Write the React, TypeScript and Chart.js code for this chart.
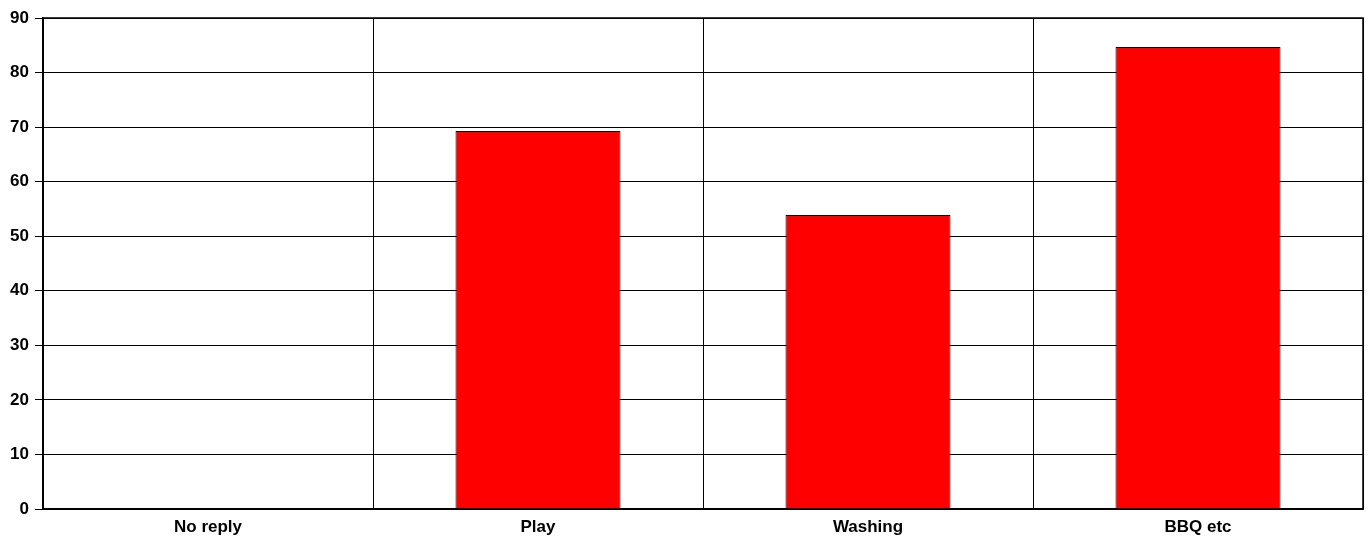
import React, { useEffect, useRef } from "react";
import { Chart, registerables } from "chart.js";

Chart.register(...registerables);

const categories = ["No reply", "Play", "Washing", "BBQ etc"];
const values = [0, 69.3, 53.9, 84.7];
const yTicks = [0, 10, 20, 30, 40, 50, 60, 70, 80, 90];

export default function App() {
  const ref = useRef<HTMLCanvasElement | null>(null);
  useEffect(() => {
    document.body.style.margin = "0";
    const ctx = ref.current!;
    const font = { family: "Arial, 'Liberation Sans', sans-serif", size: 17, weight: "bold" as const };
    const chart = new Chart(ctx, {
      type: "bar",
      data: {
        labels: categories,
        datasets: [
          {
            data: values,
            backgroundColor: "#ff0000",
            borderColor: "#000000",
            borderWidth: 1,
            barPercentage: 0.5,
            categoryPercentage: 1,
          },
        ],
      },
      options: {
        animation: false,
        responsive: false,
        devicePixelRatio: 1,
        layout: { padding: { top: 18, right: 5, left: 0, bottom: 0 } },
        plugins: { legend: { display: false }, tooltip: { enabled: false } },
        scales: {
          x: {
            afterFit: (s: any) => {
              s.height = 29;
            },
            grid: { color: "#000000", lineWidth: 1, drawTicks: false, offset: true },
            border: { color: "#000000", width: 1.5 },
            ticks: { color: "#000000", font, padding: 8 },
          },
          y: {
            min: 0,
            max: 90,
            afterFit: (s: any) => {
              s.width = 43;
            },
            afterBuildTicks: (axis: any) => {
              axis.ticks = yTicks.map((v) => ({ value: v }));
            },
            grid: { color: "#000000", lineWidth: 1, tickLength: 8, tickColor: "#000000" },
            border: { color: "#000000", width: 1.5 },
            ticks: { color: "#000000", font, padding: 6 },
          },
        },
      },
      plugins: [
        {
          id: "frame",
          afterDraw(c: any) {
            const { left, right, top, bottom } = c.chartArea;
            const g = c.ctx;
            g.save();
            g.strokeStyle = "#000";
            g.lineWidth = 1.5;
            g.strokeRect(left, top, right - left, bottom - top);
            g.restore();
          },
        },
      ],
    });
    return () => chart.destroy();
  }, []);
  return (
    <div style={{ position: "absolute", left: 0, top: 0, width: 1368, height: 538 }}>
      <canvas ref={ref} width={1368} height={538} style={{ width: 1368, height: 538 }} />
    </div>
  );
}
